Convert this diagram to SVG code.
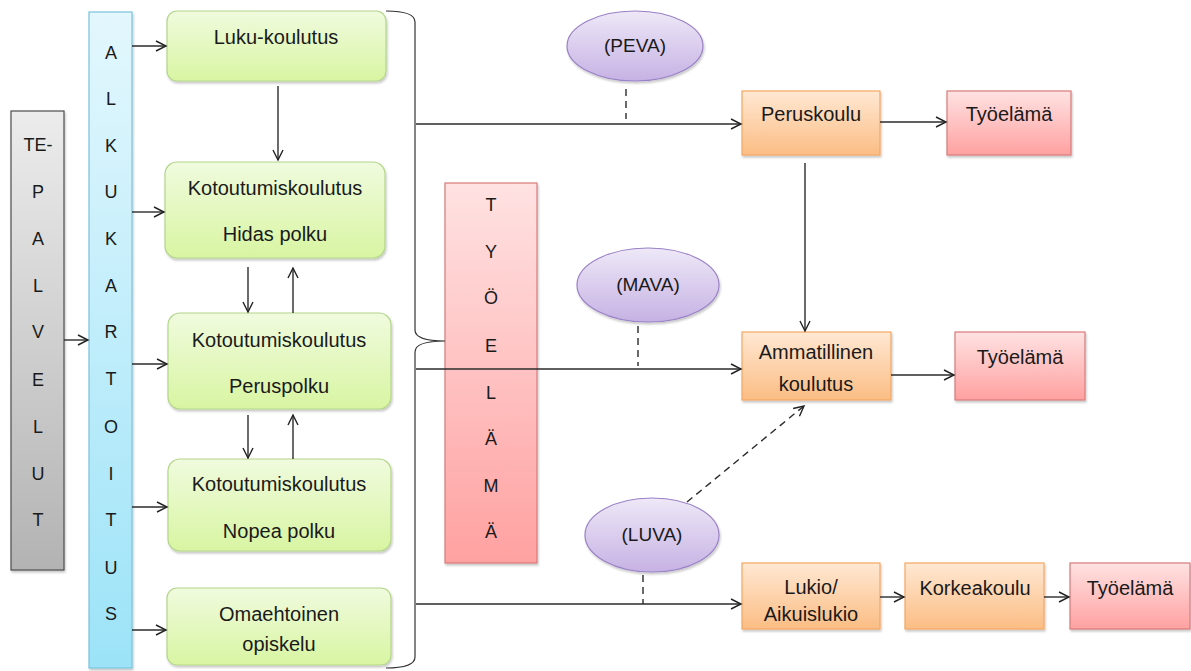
<svg xmlns="http://www.w3.org/2000/svg" width="1191" height="671" viewBox="0 0 1191 671">
  <defs>
    <linearGradient id="gGreen" x1="0" y1="0" x2="0" y2="1">
      <stop offset="0" stop-color="#f0fbde"/>
      <stop offset="1" stop-color="#d8f5a2"/>
    </linearGradient>
    <linearGradient id="gBlue" x1="0" y1="0" x2="0" y2="1">
      <stop offset="0" stop-color="#e3f7fd"/>
      <stop offset="1" stop-color="#9ce3f8"/>
    </linearGradient>
    <linearGradient id="gGray" x1="0" y1="0" x2="0" y2="1">
      <stop offset="0" stop-color="#ececec"/>
      <stop offset="1" stop-color="#b3b3b3"/>
    </linearGradient>
    <linearGradient id="gRed" x1="0" y1="0" x2="0" y2="1">
      <stop offset="0" stop-color="#ffe2e2"/>
      <stop offset="1" stop-color="#ffa1a1"/>
    </linearGradient>
    <linearGradient id="gOrange" x1="0" y1="0" x2="0" y2="1">
      <stop offset="0" stop-color="#ffe8d3"/>
      <stop offset="1" stop-color="#fbbd84"/>
    </linearGradient>
    <linearGradient id="gPurple" x1="0" y1="0" x2="0" y2="1">
      <stop offset="0" stop-color="#eee8f7"/>
      <stop offset="1" stop-color="#c6b2e4"/>
    </linearGradient>
    <filter id="shadow" x="-10%" y="-10%" width="120%" height="120%">
      <feDropShadow dx="1" dy="2" stdDeviation="1.2" flood-color="#000" flood-opacity="0.22"/>
    </filter>
    <marker id="arrow" markerUnits="userSpaceOnUse" markerWidth="14" markerHeight="14" refX="11" refY="6" orient="auto">
      <path d="M1,1 L11,6 L1,11" fill="none" stroke="#222" stroke-width="1.4"/>
    </marker>
  </defs>
  <style>
    text { font-family: "Liberation Sans", Arial, sans-serif; font-size: 18px; fill: #1a1a1a; text-anchor: middle; }
    .big { font-size: 20px; }
    .mid { font-size: 19px; }
    .green { fill: url(#gGreen); stroke: #b3d58a; stroke-width: 1.2; filter: url(#shadow); }
    .blue { fill: url(#gBlue); stroke: #79c3de; stroke-width: 1.2; filter: url(#shadow); }
    .gray { fill: url(#gGray); stroke: #4d4d4d; stroke-width: 1.2; filter: url(#shadow); }
    .red { fill: url(#gRed); stroke: #d77b7b; stroke-width: 1.2; filter: url(#shadow); }
    .orange { fill: url(#gOrange); stroke: #f4a763; stroke-width: 1.2; filter: url(#shadow); }
    .purple { fill: url(#gPurple); stroke: #9a82c6; stroke-width: 1.2; filter: url(#shadow); }
    .line { fill: none; stroke: #2b2b2b; stroke-width: 1.4; }
    .arr { marker-end: url(#arrow); }
    .dash { stroke-dasharray: 7 5; }
    .brace { fill: none; stroke: #333; stroke-width: 1.2; }
  </style>

  <!-- vertical bars -->
  <g id="te-palvelut">
    <rect class="gray" x="11" y="111" width="53" height="459"/>
    <text x="38" y="151">TE-</text>
    <text x="38" y="198">P</text>
    <text x="38" y="245">A</text>
    <text x="38" y="292">L</text>
    <text x="38" y="338">V</text>
    <text x="38" y="386">E</text>
    <text x="38" y="433">L</text>
    <text x="38" y="480">U</text>
    <text x="38" y="526">T</text>
  </g>

  <g id="alkukartoitus">
    <rect class="blue" x="89" y="12" width="43" height="656"/>
    <text x="111" y="59">A</text>
    <text x="111" y="105">L</text>
    <text x="111" y="152">K</text>
    <text x="111" y="198">U</text>
    <text x="111" y="245">K</text>
    <text x="111" y="292">A</text>
    <text x="111" y="338">R</text>
    <text x="111" y="385">T</text>
    <text x="111" y="433">O</text>
    <text x="111" y="480">I</text>
    <text x="111" y="526">T</text>
    <text x="111" y="574">U</text>
    <text x="111" y="620">S</text>
  </g>

  <!-- training paths -->
  <g id="luku-koulutus">
    <rect class="green" x="167" y="11" width="219" height="70" rx="10"/>
    <text class="big" x="276" y="44">Luku-koulutus</text>
  </g>
  <g id="hidas-polku">
    <rect class="green" x="165" y="162" width="220" height="96" rx="12"/>
    <text class="big" x="275" y="195">Kotoutumiskoulutus</text>
    <text class="big" x="275" y="241">Hidas polku</text>
  </g>
  <g id="peruspolku">
    <rect class="green" x="168" y="313" width="223" height="96" rx="12"/>
    <text class="big" x="279" y="347">Kotoutumiskoulutus</text>
    <text class="big" x="279" y="393">Peruspolku</text>
  </g>
  <g id="nopea-polku">
    <rect class="green" x="168" y="459" width="223" height="92" rx="12"/>
    <text class="big" x="279" y="491">Kotoutumiskoulutus</text>
    <text class="big" x="279" y="538">Nopea polku</text>
  </g>
  <g id="omaehtoinen">
    <rect class="green" x="167" y="588" width="224" height="77" rx="10"/>
    <text class="big" x="279" y="621">Omaehtoinen</text>
    <text class="big" x="279" y="651">opiskelu</text>
  </g>

  <g id="tyoelama-bar">
    <rect class="red" x="445" y="183" width="92" height="380"/>
    <text x="491" y="211">T</text>
    <text x="491" y="258">Y</text>
    <text x="491" y="304">Ö</text>
    <text x="491" y="352">E</text>
    <text x="491" y="399">L</text>
    <text x="491" y="445">Ä</text>
    <text x="491" y="492">M</text>
    <text x="491" y="538">Ä</text>
  </g>

  <!-- support programmes -->
  <g id="peva">
    <ellipse class="purple" cx="635" cy="46" rx="68" ry="35"/>
    <text class="mid" x="635" y="52">(PEVA)</text>
  </g>
  <g id="mava">
    <ellipse class="purple" cx="648" cy="285" rx="71" ry="37"/>
    <text class="mid" x="648" y="291">(MAVA)</text>
  </g>
  <g id="luva">
    <ellipse class="purple" cx="652" cy="535" rx="67" ry="37"/>
    <text class="mid" x="652" y="541">(LUVA)</text>
  </g>

  <!-- further education and work -->
  <g id="peruskoulu">
    <rect class="orange" x="742" y="91" width="138" height="64"/>
    <text class="big" x="811" y="121">Peruskoulu</text>
  </g>
  <g id="tyoelama-1">
    <rect class="red" x="947" y="91" width="124" height="64"/>
    <text class="big" x="1009" y="121">Työelämä</text>
  </g>
  <g id="ammatillinen">
    <rect class="orange" x="742" y="332" width="149" height="68"/>
    <text class="big" x="816" y="359">Ammatillinen</text>
    <text class="big" x="816" y="391">koulutus</text>
  </g>
  <g id="tyoelama-2">
    <rect class="red" x="955" y="332" width="130" height="68"/>
    <text class="big" x="1020" y="364">Työelämä</text>
  </g>
  <g id="lukio">
    <rect class="orange" x="742" y="563" width="138" height="66"/>
    <text class="big" x="811" y="594">Lukio/</text>
    <text class="big" x="811" y="621">Aikuislukio</text>
  </g>
  <g id="korkeakoulu">
    <rect class="orange" x="905" y="563" width="139" height="66"/>
    <text class="big" x="975" y="595">Korkeakoulu</text>
  </g>
  <g id="tyoelama-3">
    <rect class="red" x="1070" y="563" width="120" height="66"/>
    <text class="big" x="1130" y="595">Työelämä</text>
  </g>

  <g id="connectors">
    <!-- brace grouping the training paths -->
    <path class="brace" d="M386,11 Q415,11 415,22 L415,330 Q415,341 445,341 Q415,341 415,352 L415,657 Q415,668 386,668"/>

    <line class="line arr" x1="64" y1="340" x2="88" y2="340"/>

    <line class="line arr" x1="132" y1="46" x2="166" y2="46"/>
    <line class="line arr" x1="132" y1="212" x2="164" y2="212"/>
    <line class="line arr" x1="132" y1="364" x2="167" y2="364"/>
    <line class="line arr" x1="132" y1="507" x2="167" y2="507"/>
    <line class="line arr" x1="132" y1="630" x2="166" y2="630"/>

    <line class="line arr" x1="278" y1="86" x2="278" y2="160"/>
    <line class="line arr" x1="248" y1="267" x2="248" y2="312"/>
    <line class="line arr" x1="293" y1="313" x2="293" y2="268"/>
    <line class="line arr" x1="248" y1="415" x2="248" y2="458"/>
    <line class="line arr" x1="293" y1="459" x2="293" y2="415"/>

    <line class="line arr" x1="416" y1="124" x2="741" y2="124"/>
    <line class="line arr" x1="416" y1="369" x2="741" y2="369"/>
    <line class="line arr" x1="416" y1="604" x2="741" y2="604"/>

    <line class="line dash" x1="626" y1="89" x2="626" y2="119"/>
    <line class="line dash" x1="638" y1="326" x2="638" y2="366"/>
    <line class="line dash" x1="643" y1="575" x2="643" y2="604"/>
    <line class="line dash arr" x1="687" y1="502" x2="804" y2="406"/>

    <line class="line arr" x1="880" y1="122" x2="946" y2="122"/>
    <line class="line arr" x1="805" y1="163" x2="805" y2="331"/>
    <line class="line arr" x1="891" y1="375" x2="954" y2="375"/>
    <line class="line arr" x1="880" y1="597" x2="904" y2="597"/>
    <line class="line arr" x1="1044" y1="597" x2="1069" y2="597"/>
  </g>
</svg>
